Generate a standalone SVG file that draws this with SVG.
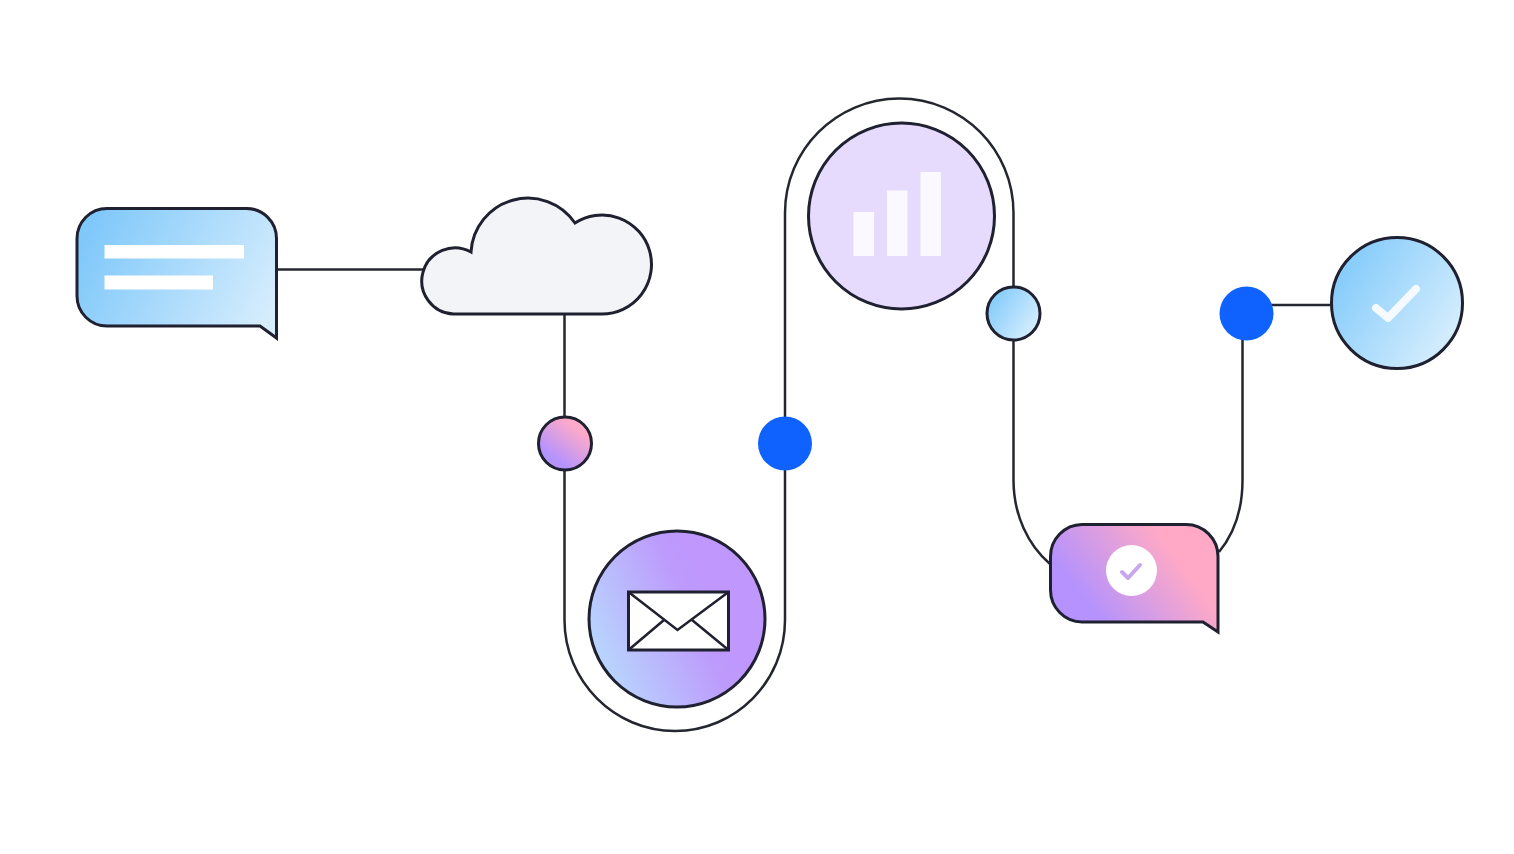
<svg xmlns="http://www.w3.org/2000/svg" width="1514" height="854" viewBox="0 0 1514 854">
<defs>
<linearGradient id="gBlue" x1="0" y1="0.2" x2="1" y2="0.85"><stop offset="0" stop-color="#7fc9fb"/><stop offset="1" stop-color="#def1fd"/></linearGradient>
<linearGradient id="gBubble" gradientUnits="userSpaceOnUse" x1="85" y1="235" x2="265" y2="325"><stop offset="0" stop-color="#7fc8fa"/><stop offset="1" stop-color="#d6edfd"/></linearGradient>
<linearGradient id="gDot" x1="0.8" y1="0.15" x2="0.25" y2="0.85"><stop offset="0.1" stop-color="#ffaac8"/><stop offset="0.9" stop-color="#b593fd"/></linearGradient>
<linearGradient id="gMail" x1="0.05" y1="0.72" x2="0.72" y2="0.42"><stop offset="0" stop-color="#b8d6fe"/><stop offset="0.8" stop-color="#bd9bfc"/><stop offset="1" stop-color="#bf97fd"/></linearGradient>
<linearGradient id="gPink" gradientUnits="userSpaceOnUse" x1="1085" y1="610" x2="1178" y2="540"><stop offset="0.05" stop-color="#b592fd"/><stop offset="0.9" stop-color="#ffa9c6"/></linearGradient>
</defs>
<style>
.l{fill:none;stroke:#24272f;stroke-width:2.5}
.o{stroke:#1f2030;stroke-width:3}
.w{fill:#fff}
.b{fill:#fbf9ff}
</style>
<rect width="1514" height="854" fill="#fff"/>
<g id="connectors">
<path class="l" d="M277 269.500H425"/>
<path class="l" d="M564.500 314V620C564.500 681 614 731 675 731C736 731 785 681 785 620V213C785 150 836 98.500 899.500 98.500C963 98.500 1013.500 150 1013.500 213V480C1013.500 515 1028 545 1050 564"/>
<path class="l" d="M1219 552C1233 535 1242.500 510 1242.500 480V313"/>
<path class="l" d="M1246 305H1332"/>
</g>
<g id="bubble-blue">
<path class="o" fill="url(#gBubble)" d="M107 208.500H246A30 30 0 0 1 276.500 238.500V338L260 326H107A30 30 0 0 1 77 296V238.500A30 30 0 0 1 107 208.500Z"/>
<rect class="w" x="104.500" y="245" width="139.500" height="13.500"/>
<rect class="w" x="104.500" y="275.500" width="108.500" height="14"/>
</g>
<g id="cloud">
<path class="o" fill="#f3f4f8" d="M471 252A57 57 0 0 1 575 223A49.500 49.500 0 1 1 602 314H453.500A33.100 33.100 0 1 1 471 252Z"/>
</g>
<g id="dot-pink"><circle class="o" cx="565" cy="443.500" r="26.500" fill="url(#gDot)"/></g>
<g id="dot-blue-1"><circle cx="785" cy="443.500" r="27" fill="#0f62fe"/></g>
<g id="mail">
<circle class="o" cx="677" cy="619" r="88" fill="url(#gMail)"/>
<rect x="628.500" y="592" width="100" height="58" fill="#fff" stroke="#1f2030" stroke-width="3"/>
<path d="M628.500 592L677.500 630L728.500 592M628.500 650L664 620M728.500 650L692 620" fill="none" stroke="#1f2030" stroke-width="2.500"/>
</g>
<g id="chart">
<circle class="o" cx="901.500" cy="216" r="93" fill="#e6dbfc"/>
<rect class="b" x="853.500" y="212" width="20.500" height="44"/>
<rect class="b" x="887" y="190.500" width="20.500" height="65.500"/>
<rect class="b" x="920.500" y="172" width="20.500" height="84"/>
</g>
<g id="dot-light"><circle class="o" cx="1013.500" cy="313.500" r="26.500" fill="url(#gBlue)"/></g>
<g id="bubble-pink">
<path class="o" fill="url(#gPink)" d="M1082 524.500H1186A32 32 0 0 1 1218 556.500V632L1203 622H1082A32 32 0 0 1 1050.500 590V556.500A32 32 0 0 1 1082 524.500Z"/>
<circle class="w" cx="1131.500" cy="570.500" r="25.500"/>
<path d="M1122 572L1128 578L1140 565" fill="none" stroke="#c9a7ec" stroke-width="4" stroke-linecap="round" stroke-linejoin="round"/>
</g>
<g id="dot-blue-2"><circle cx="1246.500" cy="313.500" r="27" fill="#0f62fe"/></g>
<g id="check">
<circle class="o" cx="1397" cy="303" r="65.500" fill="url(#gBlue)"/>
<path d="M1376 308L1388 318L1416 289" fill="none" stroke="#f4faff" stroke-width="8" stroke-linecap="round" stroke-linejoin="round"/>
</g>
</svg>
